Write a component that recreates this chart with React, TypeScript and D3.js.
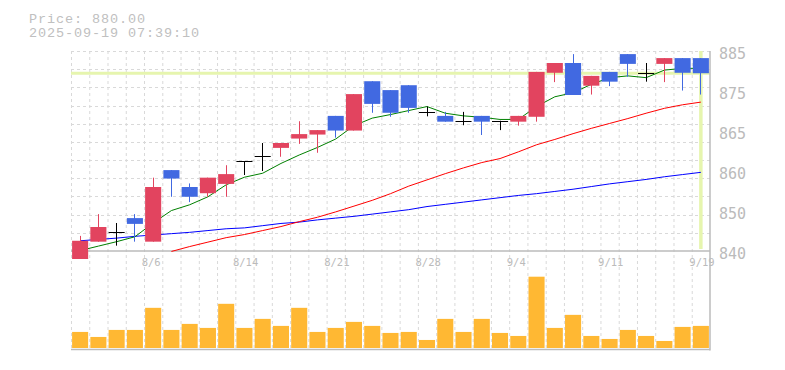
import * as d3 from "d3";
import React, {useEffect, useRef} from "react";

// daily candles, 7/31 .. 9/19
const dates = [
  '7/31', '8/1', '8/4', '8/5', '8/6', '8/7', '8/8', '8/12', '8/13', '8/14',
  '8/15', '8/18', '8/19', '8/20', '8/21', '8/22', '8/25', '8/26', '8/27', '8/28',
  '8/29', '9/1', '9/2', '9/3', '9/4', '9/5', '9/8', '9/9', '9/10', '9/11',
  '9/12', '9/16', '9/17', '9/18', '9/19'
];
const opens = [
  838.2, 842.1, 844.2, 847.4, 842.1, 858.2, 854.4, 853.0, 855.1, 860.2,
  861.3, 863.2, 865.3, 866.2, 870.4, 867.1, 878.2, 876.2, 877.3, 871.3,
  870.4, 869.2, 870.4, 869.3, 869.1, 870.2, 880.1, 882.3, 877.2, 880.3,
  884.3, 880.1, 882.1, 883.4, 883.4
];
const highs = [
  843.4, 848.3, 846.3, 848.3, 856.5, 858.2, 855.2, 856.5, 859.3, 860.2,
  864.3, 864.3, 869.2, 867.2, 870.4, 875.3, 878.2, 876.2, 877.3, 872.5,
  871.3, 871.3, 870.4, 869.3, 870.4, 880.3, 882.3, 884.3, 879.4, 880.3,
  884.3, 882.3, 883.4, 883.4, 883.4
];
const lows = [
  838.2, 842.1, 841.2, 842.1, 842.1, 852.2, 851.0, 852.2, 852.2, 857.1,
  858.0, 861.2, 864.1, 862.1, 865.5, 867.1, 871.1, 870.2, 871.1, 870.3,
  869.1, 868.3, 866.1, 867.2, 868.2, 869.1, 878.0, 875.1, 875.2, 877.1,
  879.2, 878.1, 878.0, 876.1, 875.2
];
const closes = [
  842.3, 845.4, 844.2, 846.1, 854.4, 856.3, 852.2, 856.5, 857.3, 860.2,
  861.3, 864.3, 866.3, 867.2, 867.1, 875.3, 873.1, 871.1, 872.2, 871.3,
  869.1, 869.2, 869.1, 869.3, 870.4, 880.3, 882.3, 875.1, 879.4, 878.1,
  882.1, 880.1, 883.4, 880.1, 880.0
];
const volumes = [
  16, 11, 18, 18, 40, 18, 24, 20, 44, 20,
  29, 22, 40, 16, 20, 26, 22, 15, 16, 8,
  29, 16, 29, 15, 12, 71, 20, 33, 12, 9,
  18, 12, 7, 21, 22
];
// moving averages (green 5d, red 25d, blue 75d)
const ma5 = [
  840.1, 841.1, 842.1, 843.2, 846.3, 849.1, 850.4, 852.2, 854.9, 856.6,
  857.5, 859.7, 861.6, 863.3, 865.2, 868.2, 869.9, 870.7, 871.6, 872.5,
  871.0, 870.4, 870.1, 869.6, 869.6, 872.5, 874.7, 875.6, 877.5, 879.0,
  879.4, 879.0, 880.7, 881.1, 881.1
];
const ma25 = [
  null, null, null, null, null, 839.9, 841.0, 842.0, 843.0, 843.7,
  844.6, 845.5, 846.6, 847.6, 848.8, 850.1, 851.4, 852.9, 854.6, 856.0,
  857.4, 858.7, 859.9, 860.8, 862.3, 863.9, 865.1, 866.4, 867.6, 868.7,
  869.8, 871.0, 872.1, 872.9, 873.5
];
const ma75 = [
  842.3, 842.6, 842.9, 843.3, 843.6, 843.9, 844.2, 844.6, 845.0, 845.2,
  845.7, 846.2, 846.5, 847.0, 847.4, 847.8, 848.3, 848.8, 849.3, 850.0,
  850.5, 851.0, 851.5, 852.0, 852.5, 852.9, 853.4, 853.9, 854.5, 855.1,
  855.6, 856.1, 856.7, 857.2, 857.7
];
const xTickLabels = ['8/6', '8/14', '8/21', '8/28', '9/4', '9/11', '9/19'];
const yTicks = [840, 849, 858, 867, 876, 885];
const yTickLabels = ['840', '850', '860', '865', '875', '885'];
const lastPrice = 880;
const priceText = 'Price: 880.00';
const timeText = '2025-09-19 07:39:10';

const UP = '#e2445f';
const DOWN = '#4169e1';
const GRID = '#d9d9d9';
const AXIS = '#bbbbbb';
const MARK = '#e6f5ae';

const App: React.FC = () => {
  const ref = useRef<SVGSVGElement | null>(null);

  useEffect(() => {
    const svg = d3.select(ref.current);
    svg.selectAll('*').remove();

    const left = 71, right = 710, top = 51, bottom = 251;
    const volTop = 276.7, volBottom = 348, volAxis = 349.5;

    const x = d3.scaleBand<string>()
      .domain(dates)
      .range([left, right])
      .paddingInner(0.12)
      .paddingOuter(0.06);
    const bw = x.bandwidth();
    const cx = (i: number) => (x(dates[i]) as number) + bw / 2;

    const y = d3.scaleLinear().domain([840, 885]).range([bottom, top]);
    const vy = d3.scaleLinear().domain([0, d3.max(volumes) as number]).range([volBottom, volTop]);

    svg.append('rect').attr('width', 785).attr('height', 370).attr('fill', '#fff');

    // grid
    const grid = svg.append('g').attr('stroke', GRID).attr('stroke-dasharray', '3,3');
    d3.range(dates.length).forEach((i) => {
      const gx = left + i * x.step() + 0.5;
      grid.append('line').attr('x1', gx).attr('x2', gx).attr('y1', top).attr('y2', volAxis);
    });
    d3.range(11).forEach((k) => {
      const gy = Math.round(y(885 - k * 45 / 11)) + 0.5;
      grid.append('line').attr('x1', left).attr('x2', right).attr('y1', gy).attr('y2', gy);
    });

    // axis lines
    svg.append('line').attr('x1', left).attr('x2', right).attr('y1', bottom).attr('y2', bottom)
      .attr('stroke', AXIS).attr('stroke-width', 1.5);
    svg.append('line').attr('x1', left).attr('x2', right).attr('y1', volAxis).attr('y2', volAxis)
      .attr('stroke', AXIS).attr('stroke-width', 1.5);

    // current price markers
    svg.append('line').attr('x1', left).attr('x2', right)
      .attr('y1', y(lastPrice)).attr('y2', y(lastPrice))
      .attr('stroke', MARK).attr('stroke-width', 3);
    const lastX = cx(dates.length - 1);
    svg.append('line').attr('x1', lastX).attr('x2', lastX).attr('y1', top).attr('y2', bottom - 2)
      .attr('stroke', MARK).attr('stroke-width', 3.5);

    // moving averages
    const maLine = d3.line<number | null>()
      .defined((d) => d != null)
      .x((_, i) => cx(i))
      .y((d) => y(d as number));
    [[ma75, '#0000ff'], [ma25, '#ff0000'], [ma5, '#008000']].forEach(([vals, c]) => {
      svg.append('path')
        .attr('d', maLine(vals as (number | null)[]) as string)
        .attr('fill', 'none')
        .attr('stroke', c as string)
        .attr('stroke-width', 1);
    });

    // candles
    const candles = svg.selectAll('.candle')
      .data(dates.map((d, i) => i))
      .enter()
      .append('g')
      .attr('class', 'candle');
    const colorOf = (i: number) =>
      closes[i] === opens[i] ? '#000' : closes[i] > opens[i] ? UP : DOWN;

    candles.append('line')
      .attr('x1', (i) => Math.floor(cx(i)) + 0.5)
      .attr('x2', (i) => Math.floor(cx(i)) + 0.5)
      .attr('y1', (i) => y(highs[i]))
      .attr('y2', (i) => y(lows[i]))
      .attr('stroke', colorOf)
      .attr('stroke-width', 1);
    candles.filter((i) => closes[i] !== opens[i])
      .append('rect')
      .attr('x', (i) => x(dates[i]) as number)
      .attr('width', bw)
      .attr('y', (i) => y(Math.max(opens[i], closes[i])))
      .attr('height', (i) => Math.abs(y(opens[i]) - y(closes[i])))
      .attr('fill', colorOf);
    candles.filter((i) => closes[i] === opens[i])
      .append('line')
      .attr('x1', (i) => x(dates[i]) as number)
      .attr('x2', (i) => (x(dates[i]) as number) + bw)
      .attr('y1', (i) => Math.round(y(opens[i])) + 0.5)
      .attr('y2', (i) => Math.round(y(opens[i])) + 0.5)
      .attr('stroke', '#000')
      .attr('stroke-width', 1);

    // volume
    svg.selectAll('.vol')
      .data(volumes)
      .enter()
      .append('rect')
      .attr('class', 'vol')
      .attr('x', (_, i) => x(dates[i]) as number)
      .attr('width', bw)
      .attr('y', (v) => vy(v))
      .attr('height', (v) => volBottom - vy(v))
      .attr('fill', '#ffb833');

    // x labels
    svg.append('g')
      .selectAll('text')
      .data(xTickLabels)
      .enter()
      .append('text')
      .attr('x', (d) => cx(dates.indexOf(d)) - 11.5)
      .attr('y', 266)
      .attr('fill', AXIS)
      .style('font-family', 'DejaVu Sans Mono, monospace')
      .style('font-size', '10.5px')
      .text((d) => d);

    // y labels
    svg.append('g')
      .selectAll('text')
      .data(yTicks)
      .enter()
      .append('text')
      .attr('x', 719)
      .attr('y', (d) => y(d) + 7.5)
      .attr('fill', AXIS)
      .style('font-family', 'DejaVu Sans Mono, monospace')
      .style('font-size', '15px')
      .text((_, i) => yTickLabels[i]);

    // right border
    svg.append('line').attr('x1', right).attr('x2', right).attr('y1', top).attr('y2', volAxis + 1)
      .attr('stroke', AXIS).attr('stroke-width', 1.5);

    // header
    const head = svg.append('g')
      .attr('fill', '#c0c0c0')
      .style('font-family', 'Liberation Mono, monospace')
      .style('font-size', '13.5px')
      .style('letter-spacing', '0.9px');
    head.append('text').attr('x', 29).attr('y', 22.5).text(priceText);
    head.append('text').attr('x', 29).attr('y', 37).text(timeText);

    return () => {
      svg.selectAll('*').remove();
    };
  }, []);

  return (
    <svg ref={ref} width={785} height={370}
      style={{position: 'absolute', left: 0, top: 0, display: 'block'}}/>
  );
};

export default App;
